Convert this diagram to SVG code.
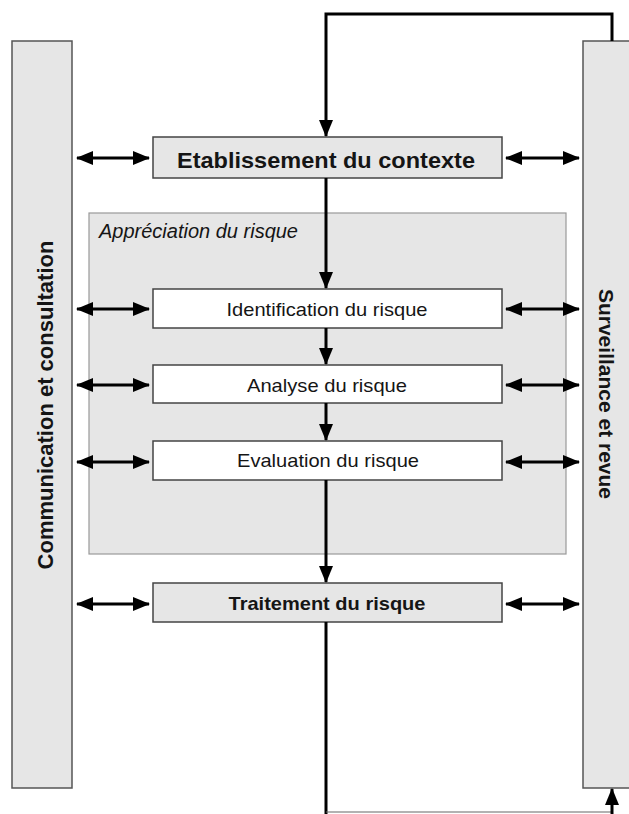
<svg xmlns="http://www.w3.org/2000/svg" width="629" height="814" viewBox="0 0 629 814">
<defs>
<marker id="ah" viewBox="0 0 17 14" refX="16" refY="7" markerWidth="5.67" markerHeight="4.67" markerUnits="strokeWidth" orient="auto-start-reverse">
<path d="M0,0 L17,7 L0,14 z" fill="#000"/>
</marker>
</defs>
<style>
.bar{fill:#e6e6e6;stroke:#555;stroke-width:1.5}
.box{stroke:#444;stroke-width:1.5}
.g{fill:#e6e6e6}
.w{fill:#fff}
.t{font-family:"Liberation Sans",Arial,sans-serif;fill:#151515;text-anchor:middle}
.b{font-weight:bold}
.c{fill:none;stroke:#000;stroke-width:3}
</style>
<rect width="629" height="814" fill="#fff"/>
<g id="communication">
<rect class="bar" x="12" y="41" width="60" height="747"/>
<text class="t b" font-size="22" transform="translate(53,405) rotate(-90)">Communication et consultation</text>
</g>
<g id="surveillance">
<rect class="bar" x="583" y="41" width="60" height="747"/>
<text class="t b" font-size="21" transform="translate(599,394) rotate(90)">Surveillance et revue</text>
</g>
<g id="appreciation">
<rect x="89" y="213" width="477" height="341" fill="#e6e6e6" stroke="#999" stroke-width="1.2"/>
<text class="t" font-size="19.5" font-style="italic" x="99" y="238" style="text-anchor:start" textLength="199" lengthAdjust="spacingAndGlyphs">Appréciation du risque</text>
</g>
<g id="contexte">
<rect class="box g" x="153" y="137" width="349" height="41"/>
<text class="t b" font-size="22.5" x="326" y="168" textLength="298" lengthAdjust="spacingAndGlyphs">Etablissement du contexte</text>
</g>
<g id="identification">
<rect class="box w" x="153" y="289" width="349" height="39"/>
<text class="t" font-size="19" x="327" y="316" textLength="201" lengthAdjust="spacingAndGlyphs">Identification du risque</text>
</g>
<g id="analyse">
<rect class="box w" x="153" y="365" width="349" height="38"/>
<text class="t" font-size="19" x="327" y="392" textLength="160" lengthAdjust="spacingAndGlyphs">Analyse du risque</text>
</g>
<g id="evaluation">
<rect class="box w" x="153" y="441" width="349" height="39"/>
<text class="t" font-size="19" x="328" y="467" textLength="182" lengthAdjust="spacingAndGlyphs">Evaluation du risque</text>
</g>
<g id="traitement">
<rect class="box g" x="153" y="583" width="349" height="39"/>
<text class="t b" font-size="19" x="327" y="610" textLength="197" lengthAdjust="spacingAndGlyphs">Traitement du risque</text>
</g>
<g id="connectors">
<path class="c" d="M612,41 V14 H326 V136" marker-end="url(#ah)"/>
<path class="c" d="M326,178 V288" marker-end="url(#ah)"/>
<path class="c" d="M326,328 V364" marker-end="url(#ah)"/>
<path class="c" d="M326,403 V440" marker-end="url(#ah)"/>
<path class="c" d="M326,480 V582" marker-end="url(#ah)"/>
<path class="c" d="M326,622 V814"/>
<path d="M326,812 H612" fill="none" stroke="#666" stroke-width="1.2"/>
<path class="c" d="M612,814 V789" marker-end="url(#ah)"/>
<path class="c" d="M77,158 H149" marker-start="url(#ah)" marker-end="url(#ah)"/>
<path class="c" d="M506,158 H579" marker-start="url(#ah)" marker-end="url(#ah)"/>
<path class="c" d="M77,309 H149" marker-start="url(#ah)" marker-end="url(#ah)"/>
<path class="c" d="M506,309 H579" marker-start="url(#ah)" marker-end="url(#ah)"/>
<path class="c" d="M77,385 H149" marker-start="url(#ah)" marker-end="url(#ah)"/>
<path class="c" d="M506,385 H579" marker-start="url(#ah)" marker-end="url(#ah)"/>
<path class="c" d="M77,462 H149" marker-start="url(#ah)" marker-end="url(#ah)"/>
<path class="c" d="M506,462 H579" marker-start="url(#ah)" marker-end="url(#ah)"/>
<path class="c" d="M77,604 H149" marker-start="url(#ah)" marker-end="url(#ah)"/>
<path class="c" d="M506,604 H579" marker-start="url(#ah)" marker-end="url(#ah)"/>
</g>
</svg>
